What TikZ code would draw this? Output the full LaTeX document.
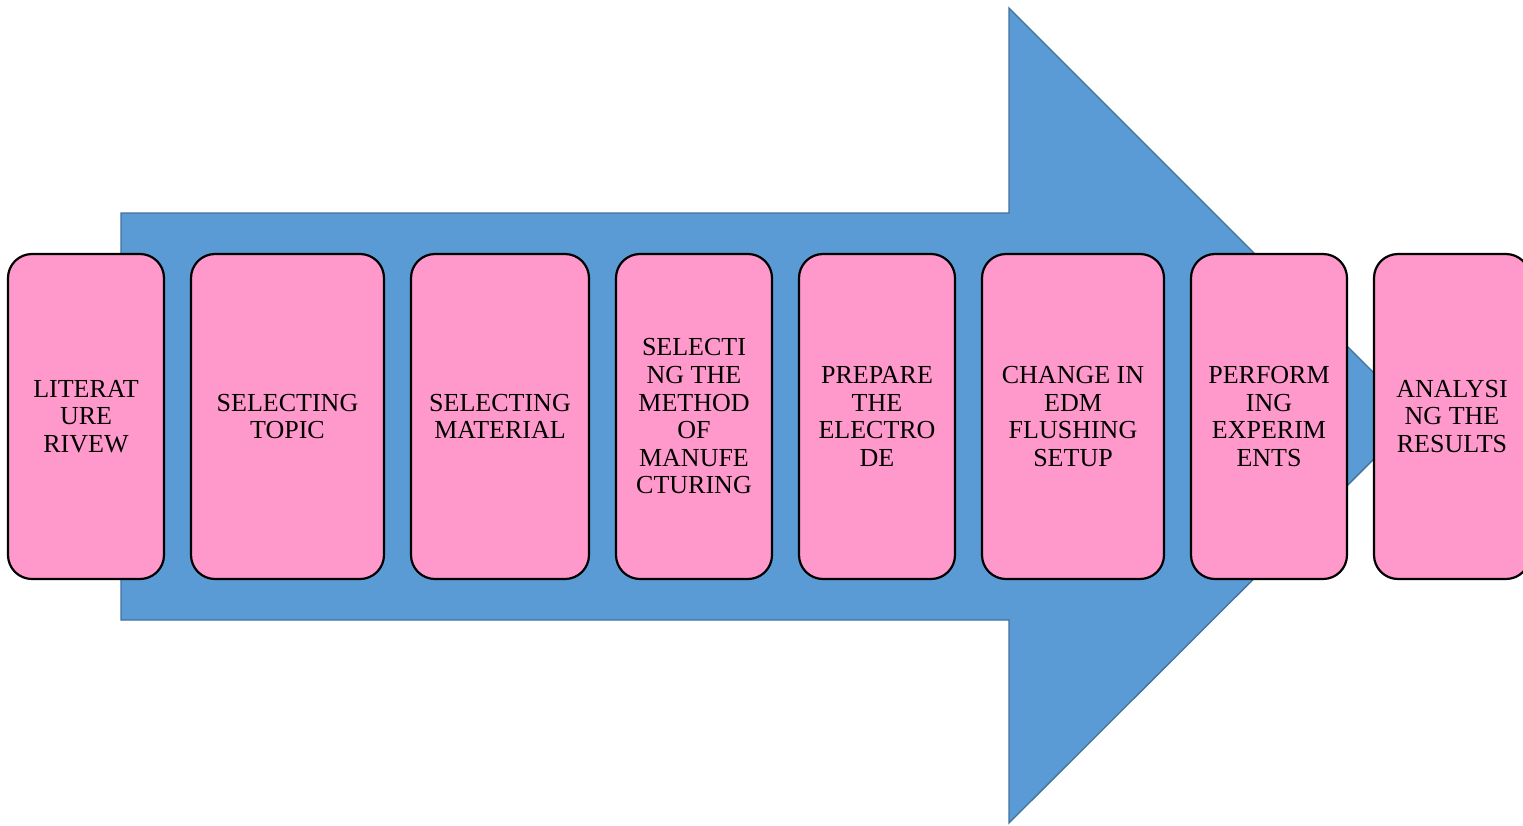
\documentclass[tikz,border=0pt]{standalone}
\usepackage{fontspec}
\setmainfont{Liberation Serif}
\definecolor{arrowfill}{HTML}{5B9BD5}
\definecolor{arrowline}{HTML}{41719C}
\definecolor{boxpink}{HTML}{FF99CC}
\tikzset{
  stepbox/.style={draw=black, line width=2.2pt, fill=boxpink, rounded corners=24pt,
    minimum height=325pt, inner sep=0pt, align=center,
    font=\fontsize{26}{27.6}\selectfont, text=black},
  bigarrow/.style={fill=arrowfill, draw=arrowline, line width=1.3pt, line join=miter}
}
\begin{document}
\begin{tikzpicture}[x=1pt,y=-1pt]
\useasboundingbox (0,0) rectangle (1523,825);
\begin{scope}
\clip (0,0) rectangle (1523,825);
\draw[bigarrow] (121,213) -- (1009,213) -- (1009,8) -- (1417,416) -- (1009,823) -- (1009,620) -- (121,620) -- cycle;
\node[stepbox, minimum width=156pt] (s1) at (86,416.5) {LITERAT\\URE\\RIVEW};
\node[stepbox, minimum width=193pt] (s2) at (287.5,416.5) {SELECTING\\TOPIC};
\node[stepbox, minimum width=178pt] (s3) at (500,416.5) {SELECTING\\MATERIAL};
\node[stepbox, minimum width=156pt] (s4) at (694,416.5) {SELECTI\\NG THE\\METHOD\\OF\\MANUFE\\CTURING};
\node[stepbox, minimum width=156pt] (s5) at (877,416.5) {PREPARE\\THE\\ELECTRO\\DE};
\node[stepbox, minimum width=182pt] (s6) at (1073,416.5) {CHANGE IN\\EDM\\FLUSHING\\SETUP};
\node[stepbox, minimum width=156pt] (s7) at (1269,416.5) {PERFORM\\ING\\EXPERIM\\ENTS};
\node[stepbox, minimum width=156pt] (s8) at (1452,416.5) {ANALYSI\\NG THE\\RESULTS};
\end{scope}
\end{tikzpicture}
\end{document}
